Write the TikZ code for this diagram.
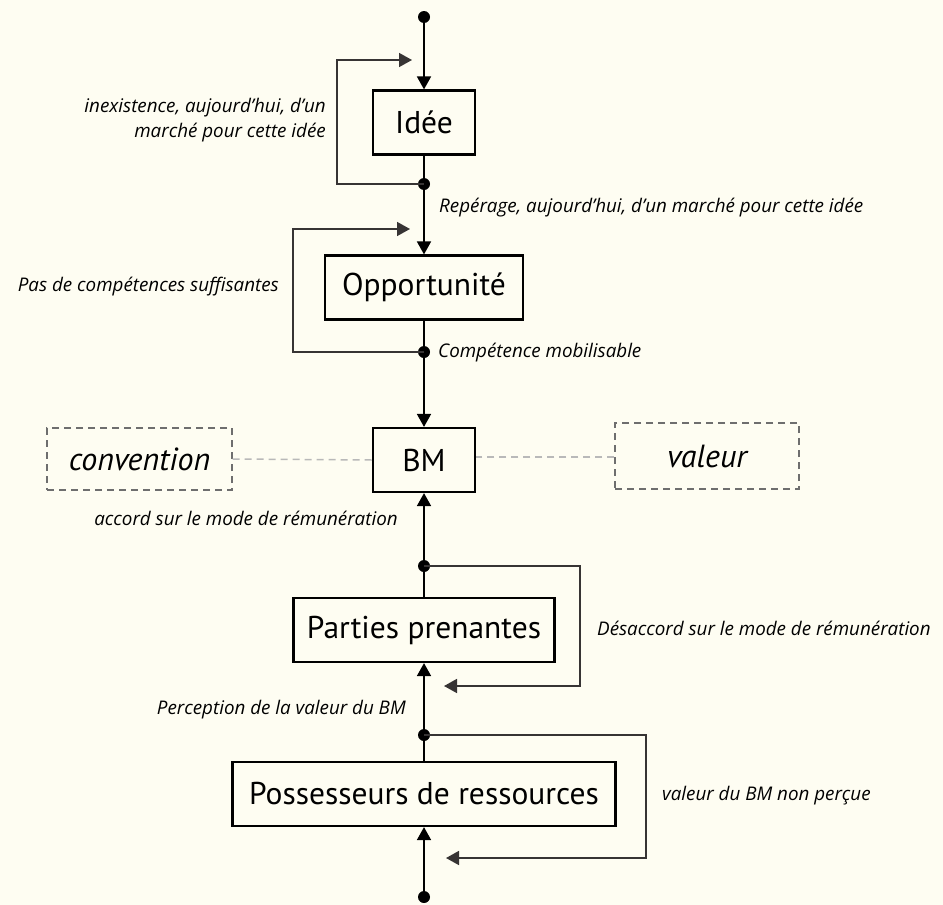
\documentclass[tikz,border=0pt]{standalone}
\usepackage{fontspec}
\setmainfont{PT Sans}
\newfontfamily\notefont{Open Sans}
\usetikzlibrary{arrows.meta,positioning}
\definecolor{bgcream}{RGB}{254,253,242}
\definecolor{loopgray}{RGB}{55,52,52}
\definecolor{linkgray}{RGB}{185,185,185}
\definecolor{dashgray}{RGB}{110,110,110}

\begin{document}
\begin{tikzpicture}[
    x = 1pt, y = -1pt, % pixel-like units
    > = {Triangle[width=14pt,length=13pt]}, % arrow head style
    stage/.style = {draw = black, line width = 2.2pt, fill = bgcream,
        minimum height = 64pt, inner sep = 0pt, font = \fontsize{31.5}{34}\selectfont},
    concept/.style = {draw = dashgray, dash pattern = on 7pt off 5pt, line width = 1.3pt,
        minimum height = 62pt, minimum width = 185pt, font = \fontsize{32}{34}\selectfont\itshape},
    flow/.style = {line width = 1.8pt, black},
    loop/.style = {line width = 1.6pt, loopgray},
    link/.style = {line width = 1.5pt, linkgray, dash pattern = on 7pt off 5pt},
    note/.style = {font = \notefont\fontsize{18.8}{25}\selectfont\itshape, inner sep = 0pt},
    dot/.style = {circle, fill = black, inner sep = 0pt, minimum size = 12pt}
    ]

    \fill[bgcream] (0,0) rectangle (943,905);
    \useasboundingbox (0,0) rectangle (943,905);

    % stages
    \node[stage, minimum width = 102pt] (idee) at (424,122.5) {Idée};
    \node[stage, minimum width = 198pt] (opp) at (424,287.5) {Opportunité};
    \node[stage, minimum width = 102pt] (bm) at (424,460) {BM};
    \node[stage, minimum width = 261pt] (pp) at (424,630) {Parties prenantes};
    \node[stage, minimum width = 383pt] (pr) at (424,794) {Possesseurs de ressources};

    \node[concept] (conv) at (139.5,459) {convention};
    \node[concept, minimum height = 66pt, minimum width = 184pt] (val) at (707,456) {valeur};

    % junction points
    \node[dot] (d0) at (424,17) {};
    \node[dot] (d1) at (424,184) {};
    \node[dot] (d2) at (424,352) {};
    \node[dot] (d3) at (424,566) {};
    \node[dot] (d4) at (424,735) {};
    \node[dot] (d5) at (424,897) {};

    \coordinate (r1) at (412,60);
    \coordinate (r2) at (410,229);
    \coordinate (r3) at (444,686);
    \coordinate (r4) at (446,858);

    % main flow
    \draw[flow, ->] (d0.center) -- (idee.north);
    \draw[flow, ->] (idee.south) -- (d1.center) -- (opp.north);
    \draw[flow, ->] (opp.south) -- (d2.center) -- (bm.north);
    \draw[flow, ->] (pp.north) -- (d3.center) -- (bm.south);
    \draw[flow, ->] (pr.north) -- (d4.center) -- (pp.south);
    \draw[flow, ->] (d5.center) -- (pr.south);

    % feedback loops
    \draw[loop, ->] (d1.center) -- (337,184) |- (r1);
    \draw[loop, ->] (d2.center) -- (293,352) |- (r2);
    \draw[loop, ->] (d3.center) -- (580,566) |- (r3);
    \draw[loop, ->] (d4.center) -- (646,735) |- (r4);

    % links to concepts
    \draw[link] (conv.east) -- (bm.west);
    \draw[link] (val.west |- 0,457) -- (bm.east |- 0,457);

    % notes
    \node[note, anchor = east, align = right] (n1) at (326,120)
        {inexistence, aujourd’hui, d’un\\marché pour cette idée};
    \node[note, anchor = west] (n2) at (439,208) {Repérage, aujourd’hui, d’un marché pour cette idée};
    \node[note, anchor = east] (n3) at (279,287) {Pas de compétences suffisantes};
    \node[note, anchor = west] (n4) at (438,353) {Compétence mobilisable};
    \node[note] (n5) at (246,518) {accord sur le mode de rémunération};
    \node[note, anchor = west] (n6) at (597,628) {Désaccord sur le mode de rémunération};
    \node[note, anchor = east] (n7) at (406,710) {Perception de la valeur du BM};
    \node[note, anchor = west] (n8) at (662,796) {valeur du BM non perçue};
\end{tikzpicture}
\end{document}
